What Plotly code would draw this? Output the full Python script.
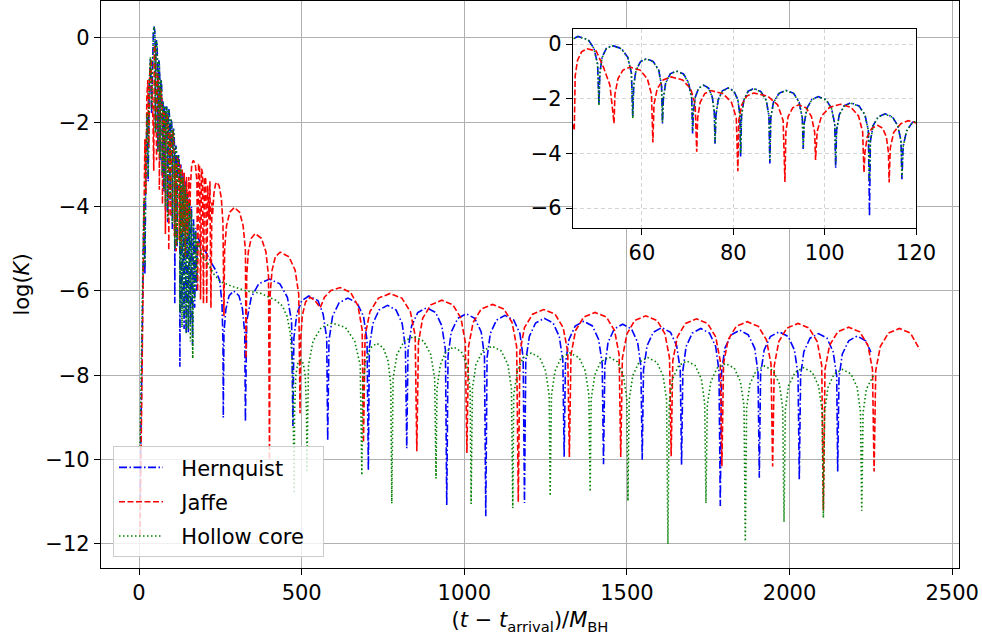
import plotly.graph_objects as go

# ---------------- data ----------------
hernquist_pts = [
    (3, -11.0), (6, -9.0), (9, -7.0), (12, -5.2), (15, -3.9), (18, -5.6), (21, -2.9), (25, -1.9), (28, -3.4),
    (31, -1.2), (35, -0.5), (38.5, -1.8), (42, -0.2), (44, 0.12), (46, 0.28),
    (48.2, 0.17), (49.5, -0.15), (50.3, -0.72), (50.6, -2.2),
    (50.8, -1.05), (51.3, -0.48), (52.2, -0.16), (53.5, -0.05), (55.5, -0.16), (56.9, -0.48), (57.7, -1.05), (58.0, -2.65),
    (58.2, -1.53), (58.7, -0.96), (59.7, -0.64), (61.0, -0.53), (62.5, -0.64), (63.7, -0.96), (64.3, -1.53), (64.5, -2.9),
    (64.7, -1.98), (65.2, -1.41), (66.2, -1.09), (67.5, -0.98), (69.1, -1.09), (70.2, -1.41), (70.9, -1.98), (71.1, -3.27),
    (71.25, -2.5), (71.7, -1.93), (72.4, -1.61), (73.5, -1.5), (74.6, -1.61), (75.4, -1.93), (75.85, -2.5), (76.0, -3.64),
    (76.2, -2.6), (76.7, -2.03), (77.6, -1.71), (78.9, -1.6), (80.1, -1.71), (81.0, -2.03), (81.45, -2.6), (81.6, -4.12),
    (81.8, -2.62), (82.3, -2.05), (83.2, -1.73), (84.5, -1.62), (86.0, -1.73), (87.2, -2.05), (87.8, -2.62), (88.0, -4.37),
    (88.2, -2.69), (88.8, -2.12), (90.0, -1.8), (91.5, -1.69), (93.2, -1.8), (94.4, -2.12), (95.1, -2.69), (95.3, -3.84),
    (95.5, -2.92), (96.1, -2.35), (97.15, -2.03), (98.6, -1.92), (100.3, -2.03), (101.5, -2.35), (102.2, -2.92), (102.4, -4.53),
    (102.6, -3.15), (103.2, -2.58), (104.25, -2.26), (105.7, -2.15), (107.5, -2.26), (108.8, -2.58), (109.55, -3.15), (109.8, -6.29),
    (110.0, -3.55), (110.6, -2.98), (111.7, -2.66), (113.2, -2.55), (114.8, -2.66), (116.0, -2.98), (116.7, -3.55), (116.9, -4.94),
    (117.15, -3.75), (117.9, -3.18), (119.2, -2.86), (121.0, -2.75), (123.0, -2.86), (124.4, -3.18), (125.2, -3.75), (125.5, -7.8),
    (128.5, -3.0), (132, -6.4), (135, -3.2), (138.5, -6.9), (141.5, -3.4), (145, -7.0), (148, -3.6), (151.5, -7.0),
    (154.5, -3.8), (158, -6.8), (161, -4.0), (164.5, -7.3), (167.5, -4.3), (171, -6.4), (174, -4.5), (177, -6.0), (180, -4.7),
    (190, -4.9), (204, -5.06), (220, -5.3), (235, -5.5), (248, -5.75), (255, -6.3), (258, -7.2), (259, -9.0),
    (261, -7.0), (267, -6.43), (277, -6.11), (291, -6.0), (307, -6.11), (318, -6.43), (325, -7.0), (327, -9.1),
    (331, -6.72), (345, -6.15), (368, -5.83), (401, -5.72), (433, -5.83), (456, -6.15), (469, -6.72), (473, -9.2),
    (476, -7.12), (485, -6.55), (500, -6.23), (522, -6.12), (550, -6.23), (566, -6.55), (577, -7.12), (580, -9.55),
    (584, -7.17), (595, -6.6), (615, -6.28), (642, -6.17), (670, -6.28), (690, -6.6), (701, -7.17), (705, -10.25),
    (708, -7.34), (719, -6.77), (738, -6.45), (764, -6.34), (790, -6.45), (809, -6.77), (819, -7.34), (823, -9.73),
    (827, -7.4), (838, -6.83), (857, -6.51), (884, -6.4), (912, -6.51), (931, -6.83), (942, -7.4), (946, -11.08),
    (950, -7.54), (960, -6.97), (980, -6.65), (1006, -6.54), (1032, -6.65), (1052, -6.97), (1062, -7.54), (1066, -11.34),
    (1070, -7.58), (1080, -7.01), (1099, -6.69), (1125, -6.58), (1152, -6.69), (1171, -7.01), (1181, -7.58), (1185, -11.03),
    (1189, -7.65), (1200, -7.08), (1219, -6.76), (1246, -6.65), (1273, -6.76), (1292, -7.08), (1303, -7.65), (1307, -9.93),
    (1311, -7.72), (1322, -7.15), (1341, -6.83), (1367, -6.72), (1394, -6.83), (1413, -7.15), (1424, -7.72), (1428, -10.11),
    (1432, -7.79), (1442, -7.22), (1461, -6.9), (1487, -6.79), (1514, -6.9), (1533, -7.22), (1543, -7.79), (1547, -10.0),
    (1551, -7.87), (1562, -7.3), (1581, -6.98), (1607, -6.87), (1634, -6.98), (1653, -7.3), (1664, -7.87), (1668, -10.12),
    (1672, -7.89), (1682, -7.32), (1701, -7.0), (1727, -6.89), (1754, -7.0), (1773, -7.32), (1783, -7.89), (1787, -11.1),
    (1791, -7.93), (1801, -7.36), (1821, -7.04), (1847, -6.93), (1873, -7.04), (1893, -7.36), (1903, -7.93), (1907, -10.43),
    (1911, -7.97), (1922, -7.4), (1941, -7.08), (1968, -6.97), (1996, -7.08), (2015, -7.4), (2026, -7.97), (2030, -10.47),
    (2034, -8.01), (2044, -7.44), (2063, -7.12), (2089, -7.01), (2115, -7.12), (2134, -7.44), (2145, -8.01), (2148, -10.28),
    (2152, -8.07), (2162, -7.5), (2182, -7.18), (2208, -7.07), (2234, -7.18), (2250, -7.45),
]

jaffe_pts = [
    (3, -11.8), (6, -9.6), (9, -7.5), (12, -5.5), (15, -3.6), (18, -2.4), (21, -3.7), (24, -1.4), (27, -1.0),
    (30, -2.6), (33, -0.8), (37, -0.5), (40, -1.4), (43, -2.0), (45.2, -3.15),
    (45.4, -1.17), (45.9, -0.6), (46.8, -0.28), (48.0, -0.17), (50.0, -0.25), (51.6, -0.85), (53.0, -1.5), (53.9, -2.9),
    (54.1, -1.84), (54.75, -1.27), (55.85, -0.95), (57.4, -0.84), (59.6, -0.95), (61.2, -1.27), (62.1, -1.84), (62.4, -3.6),
    (62.65, -2.2), (63.35, -1.63), (64.65, -1.31), (66.4, -1.2), (68.9, -1.31), (70.65, -1.63), (71.65, -2.2), (72.0, -3.94),
    (72.2, -2.7), (72.75, -2.13), (73.75, -1.81), (75.1, -1.7), (77.7, -1.81), (79.6, -2.13), (80.65, -2.7), (81.0, -4.65),
    (81.2, -2.79), (81.85, -2.22), (82.95, -1.9), (84.5, -1.79), (87.5, -1.9), (89.7, -2.22), (90.9, -2.79), (91.3, -5.04),
    (91.5, -3.22), (92.0, -2.65), (93.0, -2.33), (94.3, -2.22), (95.9, -2.33), (97.1, -2.65), (97.8, -3.22), (98.0, -4.24),
    (98.35, -3.2), (99.3, -2.63), (101.1, -2.31), (103.5, -2.2), (105.75, -2.31), (107.4, -2.63), (108.3, -3.2), (108.6, -4.7),
    (108.8, -3.97), (109.3, -3.4), (110.3, -3.08), (111.6, -2.97), (112.7, -3.08), (113.5, -3.4), (113.95, -3.97), (114.1, -5.06),
    (114.35, -3.8), (115.1, -3.23), (116.65, -2.91), (118.3, -2.8), (120.6, -2.91), (122.25, -3.23), (123.2, -3.8), (123.5, -4.8),
    (126.5, -3.0), (129.5, -5.0), (132.5, -3.1), (136, -4.6), (139, -3.2), (142.5, -5.2), (146, -3.3), (149.5, -4.7),
    (153, -3.3), (156.5, -4.3), (158, -3.5), (162, -3.0), (167, -2.9), (173, -3.0), (178, -3.4), (180, -6.0),
    (183, -3.0), (186, -3.0), (189, -6.2), (192, -3.1), (195, -3.2), (198, -6.3), (201, -3.3), (205, -3.35),
    (208, -6.3), (211, -3.5), (215, -4.3), (218, -3.4), (221, -6.4), (224, -3.9),
    (226, -4.2), (230, -3.7), (235, -3.47), (239, -3.42), (246, -3.5), (253, -3.8), (258, -4.4), (261, -6.6),
    (263, -5.02), (269, -4.45), (279, -4.13), (293, -4.02), (309, -4.13), (320, -4.45), (327, -5.02), (329, -7.6),
    (331, -5.64), (336, -5.07), (345, -4.75), (357, -4.64), (376, -4.75), (390, -5.07), (398, -5.64), (401, -10.0),
    (403, -6.08), (409, -5.51), (419, -5.19), (434, -5.08), (461, -5.19), (480, -5.51), (491, -6.08), (495, -8.9),
    (497, -7.15), (502, -6.58), (512, -6.26), (526, -6.15), (540, -6.22), (550, -6.32), (557, -6.4),
    (570, -6.15), (590, -5.99), (618, -5.92), (650, -6.03), (673, -6.35), (686, -6.92), (690, -9.6),
    (695, -7.06), (710, -6.49), (736, -6.17), (772, -6.06), (808, -6.17), (834, -6.49), (849, -7.06), (854, -9.8),
    (859, -7.22), (872, -6.65), (897, -6.33), (931, -6.22), (965, -6.33), (990, -6.65), (1003, -7.22), (1008, -9.84),
    (1013, -7.32), (1027, -6.75), (1052, -6.43), (1087, -6.32), (1122, -6.43), (1147, -6.75), (1161, -7.32), (1166, -11.0),
    (1171, -7.44), (1185, -6.87), (1210, -6.55), (1244, -6.44), (1279, -6.55), (1304, -6.87), (1318, -7.44), (1323, -9.94),
    (1328, -7.51), (1342, -6.94), (1367, -6.62), (1402, -6.51), (1437, -6.62), (1462, -6.94), (1476, -7.51), (1481, -9.94),
    (1486, -7.59), (1500, -7.02), (1524, -6.7), (1558, -6.59), (1593, -6.7), (1617, -7.02), (1631, -7.59), (1636, -9.92),
    (1641, -7.66), (1655, -7.09), (1680, -6.77), (1714, -6.66), (1748, -6.77), (1773, -7.09), (1787, -7.66), (1792, -10.16),
    (1797, -7.73), (1811, -7.16), (1836, -6.84), (1870, -6.73), (1904, -6.84), (1929, -7.16), (1943, -7.73), (1948, -10.16),
    (1953, -7.77), (1967, -7.2), (1992, -6.88), (2026, -6.77), (2060, -6.88), (2085, -7.2), (2099, -7.77), (2104, -11.2),
    (2109, -7.86), (2123, -7.29), (2148, -6.97), (2182, -6.86), (2216, -6.97), (2241, -7.29), (2255, -7.86), (2260, -10.28),
    (2265, -7.89), (2279, -7.32), (2304, -7.0), (2338, -6.89), (2372, -7.0), (2400, -7.39),
]

hollow_pts = [
    (3, -9.7), (6, -8.3), (9, -6.8), (12, -5.0), (15, -3.8), (18, -5.4), (21, -2.8), (25, -1.8), (28, -3.3),
    (31, -1.1), (35, -0.45), (38.5, -1.7), (42, -0.15), (44, 0.12), (46, 0.27),
    (48.2, 0.16), (49.5, -0.16), (50.3, -0.74), (50.6, -2.25),
    (50.8, -1.06), (51.3, -0.49), (52.2, -0.17), (53.5, -0.06), (55.5, -0.17), (56.9, -0.49), (57.7, -1.06), (58.0, -2.72),
    (58.2, -1.54), (58.7, -0.97), (59.7, -0.65), (61.0, -0.54), (62.5, -0.65), (63.7, -0.97), (64.3, -1.54), (64.5, -2.85),
    (64.7, -1.99), (65.2, -1.42), (66.2, -1.1), (67.5, -0.99), (69.1, -1.1), (70.2, -1.42), (70.9, -1.99), (71.1, -3.2),
    (71.25, -2.51), (71.7, -1.94), (72.4, -1.62), (73.5, -1.51), (74.6, -1.62), (75.4, -1.94), (75.85, -2.51), (76.0, -3.6),
    (76.2, -2.61), (76.7, -2.04), (77.6, -1.72), (78.9, -1.61), (80.1, -1.72), (81.0, -2.04), (81.45, -2.61), (81.6, -4.0),
    (81.8, -2.63), (82.3, -2.06), (83.2, -1.74), (84.5, -1.63), (86.0, -1.74), (87.2, -2.06), (87.8, -2.63), (88.0, -4.3),
    (88.2, -2.7), (88.8, -2.13), (90.0, -1.81), (91.5, -1.7), (93.2, -1.81), (94.4, -2.13), (95.1, -2.7), (95.3, -3.8),
    (95.5, -2.93), (96.1, -2.36), (97.15, -2.04), (98.6, -1.93), (100.3, -2.04), (101.5, -2.36), (102.2, -2.93), (102.4, -4.4),
    (102.6, -3.16), (103.2, -2.59), (104.25, -2.27), (105.7, -2.16), (107.5, -2.27), (108.8, -2.59), (109.55, -3.16), (109.8, -5.0),
    (110.0, -3.56), (110.6, -2.99), (111.7, -2.67), (113.2, -2.56), (114.8, -2.67), (116.0, -2.99), (116.7, -3.56), (116.9, -4.9),
    (117.15, -3.76), (117.9, -3.19), (119.2, -2.87), (121.0, -2.78), (123.0, -2.9), (124.4, -3.2), (125.2, -3.8), (125.5, -6.5),
    (128.5, -3.1), (132, -6.86), (135, -3.3), (138.5, -6.6), (141.5, -3.5), (145, -7.0), (148, -3.7), (151.5, -6.9),
    (154.5, -3.9), (158, -7.2), (161, -4.1), (165, -7.6), (168, -4.4), (171, -6.2), (174, -4.6), (177, -5.8), (180, -4.8),
    (193, -5.15), (208, -5.3), (230, -5.6), (250, -5.78), (290, -5.9), (330, -6.0), (372, -6.05), (400, -6.15),
    (420, -6.22), (440, -6.35), (455, -6.6), (465, -7.0), (472, -7.8), (477, -10.8),
    (478, -8.9), (482, -8.0), (488, -7.72), (497, -7.64), (505, -7.72), (511, -8.0), (515, -8.9), (516, -10.3),
    (521, -7.76), (535, -7.19), (560, -6.87), (595, -6.76), (635, -6.87), (663, -7.19), (680, -7.76), (685, -10.37),
    (688, -8.24), (696, -7.67), (711, -7.35), (731, -7.24), (751, -7.35), (766, -7.67), (774, -8.24), (777, -11.04),
    (781, -8.08), (793, -7.51), (815, -7.19), (845, -7.08), (875, -7.19), (897, -7.51), (909, -8.08), (913, -10.45),
    (916, -8.33), (926, -7.76), (943, -7.44), (967, -7.33), (991, -7.44), (1008, -7.76), (1018, -8.33), (1021, -11.05),
    (1025, -8.31), (1036, -7.74), (1057, -7.42), (1085, -7.31), (1113, -7.42), (1134, -7.74), (1145, -8.31), (1149, -11.15),
    (1152, -8.47), (1163, -7.9), (1181, -7.58), (1206, -7.47), (1232, -7.58), (1250, -7.9), (1261, -8.47), (1264, -10.86),
    (1268, -8.47), (1279, -7.9), (1298, -7.58), (1325, -7.47), (1353, -7.58), (1372, -7.9), (1383, -8.47), (1387, -10.76),
    (1390, -8.57), (1401, -8.0), (1419, -7.68), (1445, -7.57), (1471, -7.68), (1489, -8.0), (1500, -8.57), (1503, -10.98),
    (1507, -8.58), (1518, -8.01), (1537, -7.69), (1564, -7.58), (1592, -7.69), (1611, -8.01), (1622, -8.58), (1626, -12.0),
    (1630, -8.66), (1640, -8.09), (1659, -7.77), (1684, -7.66), (1710, -7.77), (1729, -8.09), (1739, -8.66), (1743, -11.03),
    (1747, -8.72), (1758, -8.15), (1777, -7.83), (1803, -7.72), (1830, -7.83), (1849, -8.15), (1860, -8.72), (1864, -11.94),
    (1868, -8.78), (1878, -8.21), (1897, -7.89), (1923, -7.78), (1950, -7.89), (1969, -8.21), (1979, -8.78), (1983, -11.48),
    (1987, -8.82), (1997, -8.25), (2017, -7.93), (2043, -7.82), (2070, -7.93), (2089, -8.25), (2100, -8.82), (2104, -11.38),
    (2108, -8.86), (2118, -8.29), (2137, -7.97), (2163, -7.86), (2189, -7.97), (2208, -8.29), (2218, -8.86), (2222, -11.21),
    (2226, -8.9), (2236, -8.33), (2258, -8.0),
]

series_names = ["Hernquist", "Jaffe", "Hollow core"]
main_xticks = [0, 500, 1000, 1500, 2000, 2500]
main_yticks = [-12, -10, -8, -6, -4, -2, 0]
inset_xticks = [60, 80, 100, 120]
inset_yticks = [-6, -4, -2, 0]
main_xrange = [-117, 2521]
main_yrange = [-12.57, 0.876]
inset_xrange = [44.9, 120]
inset_yrange = [-6.72, 0.54]

# ---------------- figure ----------------
FONT = "DejaVu Sans"
FS = 21
styles = [
    dict(color="#0000ff", dash="8px,2.5px,1.5px,2.5px"),
    dict(color="#ff0000", dash="6px,2.5px"),
    dict(color="#008000", dash="1.5px,2.5px"),
]

fig = go.Figure()
for name, pts, st in zip(series_names, [hernquist_pts, jaffe_pts, hollow_pts], styles):
    t = [p[0] for p in pts]
    y = [p[1] for p in pts]
    fig.add_trace(go.Scatter(x=t, y=y, mode="lines", name="\u00a0\u00a0" + name + "\u00a0\u00a0", legendgroup=name,
                             line=dict(color=st["color"], width=1.6, dash=st["dash"]),
                             xaxis="x", yaxis="y", hoverinfo="skip"))
for name, pts, st in zip(series_names, [hernquist_pts, jaffe_pts, hollow_pts], styles):
    t = [p[0] for p in pts]
    y = [p[1] for p in pts]
    fig.add_trace(go.Scatter(x=t, y=y, mode="lines", name=name, legendgroup=name, showlegend=False,
                             line=dict(color=st["color"], width=1.6, dash=st["dash"]),
                             xaxis="x2", yaxis="y2", hoverinfo="skip"))

axis_common = dict(showline=True, linecolor="black", linewidth=1.2, mirror=True, ticks="outside",
                   ticklen=6, tickwidth=1.2, tickcolor="black", zeroline=False,
                   tickfont=dict(family=FONT, size=FS, color="black"))

fig.update_layout(
    width=982, height=641,
    margin=dict(l=101, r=23, t=1, b=73),
    paper_bgcolor="white", plot_bgcolor="white",
    font=dict(family=FONT, size=FS, color="black"),
    xaxis=dict(domain=[0, 1], anchor="y", range=main_xrange, tickmode="array", tickvals=main_xticks,
               showgrid=True, gridcolor="#b0b0b0", gridwidth=1.3,
               title=dict(text="(<i>t</i> − <i>t</i><sub>arrival</sub>)/<i>M</i><sub>BH</sub>",
                          font=dict(family=FONT, size=FS), standoff=8),
               **axis_common),
    yaxis=dict(domain=[0, 1], anchor="x", range=main_yrange, tickmode="array", tickvals=main_yticks,
               showgrid=True, gridcolor="#b0b0b0", gridwidth=1.3,
               title=dict(text="log(<i>K</i>)", font=dict(family=FONT, size=FS), standoff=10),
               **axis_common),
    xaxis2=dict(domain=[0.55, 0.95], anchor="y2", range=inset_xrange, tickmode="array", tickvals=inset_xticks,
                showgrid=True, gridcolor="#d4d4d4", gridwidth=1, griddash="4px,3px",
                **axis_common),
    yaxis2=dict(domain=[0.6, 0.95], anchor="x2", range=inset_yrange, tickmode="array", tickvals=inset_yticks,
                showgrid=True, gridcolor="#d4d4d4", gridwidth=1, griddash="4px,3px",
                **axis_common),
    legend=dict(x=0.014, y=0.019, xanchor="left", yanchor="bottom",
                bgcolor="rgba(255,255,255,0.8)", bordercolor="#cccccc", borderwidth=1,
                font=dict(family=FONT, size=FS, color="black"), tracegroupgap=4,
                itemwidth=44),
    showlegend=True,
)

# white background of the inset so the main curves do not show through
fig.add_shape(type="rect", xref="x2", yref="y2",
              x0=inset_xrange[0], x1=inset_xrange[1], y0=inset_yrange[0], y1=inset_yrange[1],
              fillcolor="white", line=dict(width=0), layer="below")

fig.write_html("out.html")
